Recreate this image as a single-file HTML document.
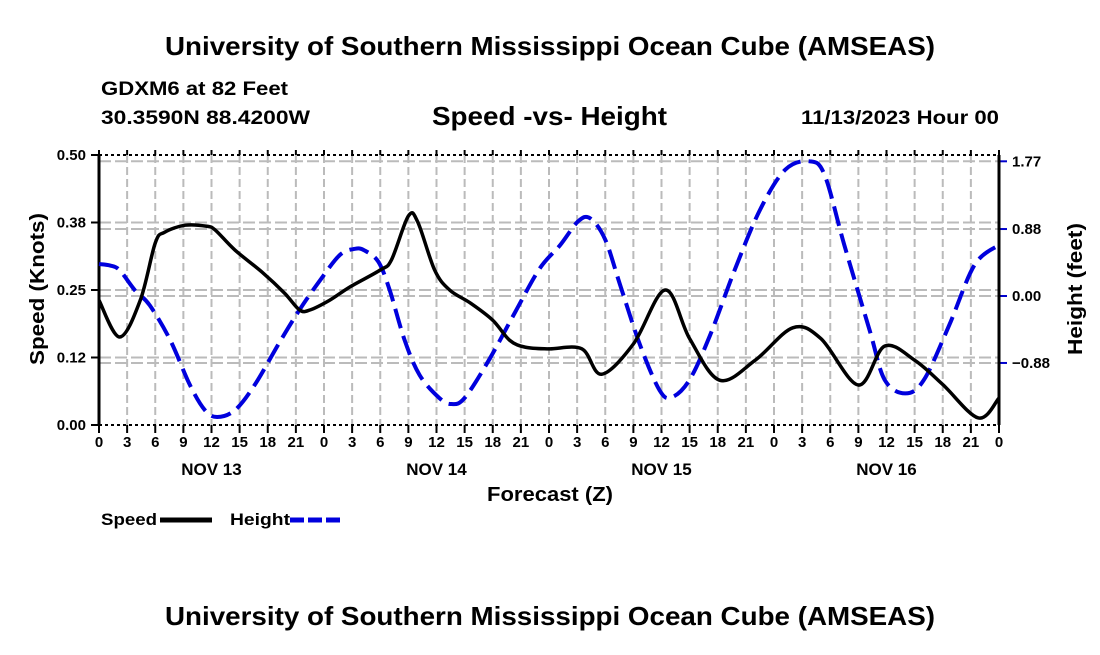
<!DOCTYPE html>
<html><head><meta charset="utf-8"><style>
body{margin:0;background:#fff;width:1100px;height:650px;overflow:hidden}
svg text{font-family:"Liberation Sans",Arial,sans-serif;font-weight:bold;fill:#000}
</style></head><body>
<svg id="chart" width="1100" height="650" viewBox="0 0 1100 650">
<text x="165" y="55" font-size="26" textLength="770" lengthAdjust="spacingAndGlyphs">University of Southern Mississippi Ocean Cube (AMSEAS)</text>
<text x="101" y="95" font-size="19" textLength="187" lengthAdjust="spacingAndGlyphs">GDXM6 at 82 Feet</text>
<text x="101" y="124" font-size="19" textLength="209" lengthAdjust="spacingAndGlyphs">30.3590N  88.4200W</text>
<text x="432" y="125" font-size="26" textLength="235" lengthAdjust="spacingAndGlyphs">Speed -vs- Height</text>
<text x="801" y="124" font-size="19" textLength="198" lengthAdjust="spacingAndGlyphs">11/13/2023 Hour 00</text>
<g id="grid"></g>
<g id="axes"></g>
<g id="series"></g>
<text transform="translate(44,365) rotate(-90)" font-size="20" textLength="152" lengthAdjust="spacingAndGlyphs">Speed (Knots)</text>
<text transform="translate(1082,355) rotate(-90)" font-size="20" textLength="132" lengthAdjust="spacingAndGlyphs">Height (feet)</text>
<text x="487" y="501" font-size="20" textLength="126" lengthAdjust="spacingAndGlyphs">Forecast (Z)</text>
<g>
<text x="101" y="525" font-size="17" textLength="56" lengthAdjust="spacingAndGlyphs">Speed</text>
<line x1="160" y1="520" x2="212" y2="520" stroke="#000" stroke-width="5"/>
<text x="230" y="525" font-size="17" textLength="60" lengthAdjust="spacingAndGlyphs">Height</text>
<line x1="290" y1="520" x2="342" y2="520" stroke="#0000dd" stroke-width="5" stroke-dasharray="14,4"/>
</g>
<text x="165" y="625" font-size="26" textLength="770" lengthAdjust="spacingAndGlyphs">University of Southern Mississippi Ocean Cube (AMSEAS)</text>
</svg>
<script>
const speedHours=[0,2.2,4.4,6,7,9.2,11.5,12.4,14.5,17.4,19.8,21.4,22.5,24.6,26.8,30,31.2,33,34,35.8,37.4,39.6,42,43.8,45.5,48,51.5,53.6,57,60.4,63,66.2,70,74,77,81,83.8,87,90,93.8,96];
const speedValues=[0.231,0.163,0.231,0.337,0.357,0.37,0.368,0.361,0.324,0.283,0.244,0.213,0.213,0.231,0.256,0.287,0.306,0.387,0.376,0.287,0.25,0.226,0.194,0.157,0.144,0.141,0.141,0.094,0.15,0.25,0.16,0.083,0.12,0.18,0.16,0.074,0.146,0.12,0.075,0.013,0.05];
const heightHours=[0,1.2,2.2,3.8,5.4,7.6,9.7,11.3,12.6,14.5,16.6,19.3,21.4,23.6,25.7,27.3,28.3,29.8,31,32.6,34.2,36.3,37.6,39,41.6,44.4,47,49.2,51.1,52.4,54,55.6,57.7,59.8,61.1,63,65.2,67.8,70.5,73.2,75.8,77.4,79.5,82.2,83.8,86,88,90.7,93.4,96];
const heightValues=[0.42,0.4,0.34,0.08,-0.12,-0.58,-1.17,-1.5,-1.59,-1.5,-1.17,-0.6,-0.18,0.21,0.54,0.62,0.6,0.45,0.08,-0.58,-1.04,-1.34,-1.42,-1.34,-0.84,-0.21,0.36,0.67,0.98,1.02,0.74,0.14,-0.64,-1.24,-1.33,-1.1,-0.51,0.34,1.13,1.66,1.77,1.59,0.67,-0.45,-1.1,-1.28,-1.1,-0.38,0.41,0.67];
const speedTicks=[0,0.125,0.25,0.375,0.5];
const speedTickLabels=["0.00","0.12","0.25","0.38","0.50"];
const heightTicks=[-0.88,0,0.88,1.77];
const heightTickLabels=["\u22120.88","0.00","0.88","1.77"];
const hourTicks=[0,3,6,9,12,15,18,21,24,27,30,33,36,39,42,45,48,51,54,57,60,63,66,69,72,75,78,81,84,87,90,93,96];
const dayLabels=["NOV 13","NOV 14","NOV 15","NOV 16"];
const dayHours=[12,36,60,84];

const X0=99,X1=999,Y0=425,Y1=155;
const xs=h=>X0+(h/96)*(X1-X0);
const ys=v=>Y0-(v/0.5)*(Y0-Y1);
const yh=v=>296-v*76.1;
const NS="http://www.w3.org/2000/svg";
function mk(p,t,a){const e=document.createElementNS(NS,t);for(const k in a)e.setAttribute(k,a[k]);p.appendChild(e);return e;}
const grid=document.getElementById('grid'),axes=document.getElementById('axes'),series=document.getElementById('series');

hourTicks.forEach((h,i)=>{
 const x=xs(h);
 if(i>0&&i<hourTicks.length-1){const l=mk(grid,'line',{x1:x,y1:Y1,x2:x,y2:Y0,stroke:'#bbb','stroke-width':2,'stroke-dasharray':'8,4'});
 
 }
 const t=mk(axes,'line',{x1:x,y1:Y0,x2:x,y2:Y0+8,stroke:'#000','stroke-width':2});
 
 
 const t2=mk(axes,'line',{x1:x,y1:Y1,x2:x,y2:Y1-5,stroke:'#000','stroke-width':2});
 
 
 const lb=mk(axes,'text',{x:x,y:447,'font-size':15,'text-anchor':'middle'});
 lb.textContent=String(h%24);
 
 
});
dayLabels.forEach((d,i)=>{
 const t=mk(axes,'text',{x:xs(dayHours[i]),y:475,'font-size':17,'text-anchor':'middle'});
 t.textContent=d;
 
 
});
speedTicks.forEach((v,i)=>{
 const y=ys(v);
 if(i>0&&i<speedTicks.length-1){const g=mk(grid,'line',{x1:X0,y1:y,x2:X1,y2:y,stroke:'#bbb','stroke-width':2,'stroke-dasharray':'12,4'});
 
 }
 const t=mk(axes,'line',{x1:X0-8,y1:y,x2:X0,y2:y,stroke:'#000','stroke-width':2});
 
 
 const lb=mk(axes,'text',{x:86,y:y+5,'font-size':15,'text-anchor':'end'});
 lb.textContent=speedTickLabels[i];
 
 
});
heightTicks.forEach((v,i)=>{
 const y=yh(v);
 const g=mk(grid,'line',{x1:X0,y1:y,x2:X1,y2:y,stroke:'#bbb','stroke-width':2,'stroke-dasharray':'12,4'});
 
 
 const t=mk(axes,'line',{x1:X1,y1:y,x2:X1+8,y2:y,stroke:'#0000cc','stroke-width':2});
 
 
 const lb=mk(axes,'text',{x:1012,y:y+5,'font-size':15});
 lb.textContent=heightTickLabels[i];
 
 
});
[[X0,Y1,X0,Y0],[X1,Y1,X1,Y0]].forEach(a=>{const l=mk(axes,'line',{x1:a[0],y1:a[1],x2:a[2],y2:a[3],stroke:'#000','stroke-width':3});
 
 });
[Y1,Y0].forEach(y=>{const l=mk(axes,'line',{x1:X0,y1:y,x2:X1,y2:y,stroke:'#000','stroke-width':2,'stroke-dasharray':'3,3'});
 
 });

function smooth(pts){
 let d='M'+pts[0][0]+','+pts[0][1];
 for(let i=0;i<pts.length-1;i++){
  const p0=pts[Math.max(0,i-1)],p1=pts[i],p2=pts[i+1],p3=pts[Math.min(pts.length-1,i+2)];
  const c1x=p1[0]+(p2[0]-p0[0])/6,c1y=p1[1]+(p2[1]-p0[1])/6;
  const c2x=p2[0]-(p3[0]-p1[0])/6,c2y=p2[1]-(p3[1]-p1[1])/6;
  d+=' C'+c1x+','+c1y+' '+c2x+','+c2y+' '+p2[0]+','+p2[1];
 }
 return d;
}
const hp=mk(series,'path',{d:smooth(heightHours.map((h,i)=>[xs(h),yh(heightValues[i])])),fill:'none',stroke:'#0000dd','stroke-width':4,'stroke-dasharray':'20,8'});


const sp=mk(series,'path',{d:smooth(speedHours.map((h,i)=>[xs(h),ys(speedValues[i])])),fill:'none',stroke:'#000','stroke-width':3.5});


</script>
</body></html>
